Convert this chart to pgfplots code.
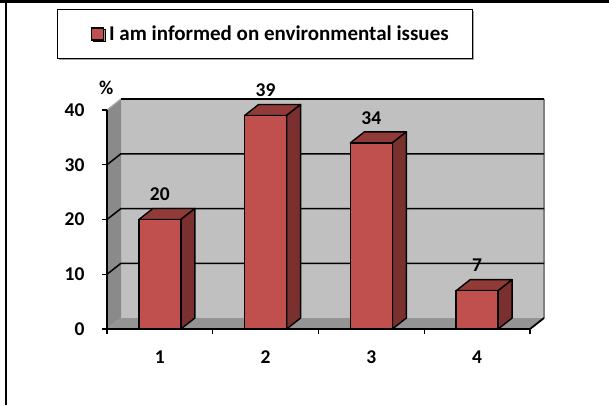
\documentclass[border=0pt]{standalone}
\usepackage{pgfplots}
\pgfplotsset{compat=1.18}
\usepackage{pgfplotstable}
\usepackage{fontspec}
\setmainfont{Carlito}
\usetikzlibrary{shadows}

\definecolor{barfront}{HTML}{C0504D}
\definecolor{bartop}{HTML}{913B39}
\definecolor{barside}{HTML}{7A302E}
\definecolor{backwall}{HTML}{C0C0C0}
\definecolor{sidewall}{HTML}{8A8A8A}
\definecolor{floorc}{HTML}{949494}

\pgfplotstableread{
cat val
1 20
2 39
3 34
4 7
}\informed

\newcommand\lblfont{\bfseries\fontsize{19.5}{22}\selectfont}

% a 3d bar drawn down from the data point; 5.475pt per unit (219pt / 40)
\pgfdeclareplotmark{excelbar}{%
  \pgfmathsetlengthmacro\barh{\rawy*5.475pt}%
  \pgfsetlinewidth{1.4pt}\pgfsetroundjoin
  \pgfsetstrokecolor{black}%
  \pgfsetfillcolor{bartop}%
  \pgfpathmoveto{\pgfqpoint{-21pt}{0pt}}%
  \pgfpathlineto{\pgfqpoint{21pt}{0pt}}%
  \pgfpathlineto{\pgfqpoint{35pt}{11pt}}%
  \pgfpathlineto{\pgfqpoint{-7pt}{11pt}}%
  \pgfpathclose
  \pgfusepathqfillstroke
  \pgfsetfillcolor{barside}%
  \pgfpathmoveto{\pgfqpoint{21pt}{0pt}}%
  \pgfpathlineto{\pgfqpoint{35pt}{11pt}}%
  \pgfpathlineto{\pgfpoint{35pt}{11pt-\barh}}%
  \pgfpathlineto{\pgfpoint{21pt}{-\barh}}%
  \pgfpathclose
  \pgfusepathqfillstroke
  \pgfsetfillcolor{barfront}%
  \pgfpathrectanglecorners{\pgfqpoint{-21pt}{0pt}}{\pgfpoint{21pt}{-\barh}}%
  \pgfusepathqfillstroke
}

\begin{document}
\begin{tikzpicture}[font=\lblfont]
% page and frame
\path[use as bounding box] (-107pt,-76pt) rectangle (502pt,329pt);
\draw[line width=2.7pt] (-107pt,327.7pt) -- (502pt,327.7pt);
\draw[line width=2pt] (-101pt,329pt) -- (-101pt,-76pt);

% 3d walls and floor (axis box: 423pt x 219pt, depth 14pt/11pt)
\fill[backwall] (14pt,11pt) rectangle (437pt,230pt);
\fill[sidewall] (0,0) -- (0,219pt) -- (14pt,230pt) -- (14pt,11pt) -- cycle;
\fill[floorc] (0,0) -- (423pt,0) -- (437pt,11pt) -- (14pt,11pt) -- cycle;
\draw[gray, line width=2pt] (437pt,11pt) -- (437pt,230pt);
\draw[gray!70, line width=1.2pt] (0,219pt) -- (14pt,230pt);
\draw[line width=2pt] (14pt,230pt) -- (437pt,230pt);
\foreach \k in {1,2,3}
  \draw[line width=1.5pt] (0,\k*54.75pt) -- ++(14pt,11pt) -- ++(423pt,0);
\draw[line width=1.8pt] (423pt,0) -- (437pt,11pt);

\begin{axis}[
  at={(0,0)}, anchor=south west,
  scale only axis, width=423pt, height=219pt,
  clip=false,
  xmin=0.5, xmax=4.5, ymin=0, ymax=40,
  axis x line*=bottom, axis y line*=left,
  axis line style={-, line width=1.8pt, black},
  xtick={0.5,1.5,2.5,3.5,4.5},
  x tick label as interval,
  xticklabels={1,2,3,4},
  ytick={0,10,20,30,40},
  tick align=outside,
  major tick length=5pt,
  tick style={black, line width=1.2pt},
  tick label style={font=\lblfont, /pgf/number format/assume math mode=true},
  yticklabel style={xshift=-14pt},
  xticklabel style={yshift=-13pt},
  ylabel={\%},
  every axis y label/.style={at={(axis description cs:-0.002,1.10)}, anchor=center, font=\lblfont},
  legend style={at={(axis description cs:0.3735,1.347)}, anchor=center,
    draw=black, line width=0.8pt, inner xsep=22pt, inner ysep=14.5pt,
    font=\bfseries\fontsize{21}{24}\selectfont,
    drop shadow={shadow xshift=1.2pt, shadow yshift=-1.2pt, fill=gray!70, opacity=1}},
]
\addplot[only marks, mark=excelbar,
  visualization depends on={rawy \as \rawy},
  nodes near coords,
  nodes near coords style={text=black, font=\lblfont, anchor=south, inner sep=0pt,
    yshift=18pt, /pgf/number format/assume math mode=true},
  legend image code/.code={\path (-12pt,0) (15pt,0);
    \draw[fill=barfront, draw=black, line width=1.5pt]
    (0pt,-6pt) rectangle (12pt,6pt);},
] table[x=cat, y=val] {\informed};
\addlegendentry{I am informed on environmental issues}
\end{axis}
\end{tikzpicture}
\end{document}
